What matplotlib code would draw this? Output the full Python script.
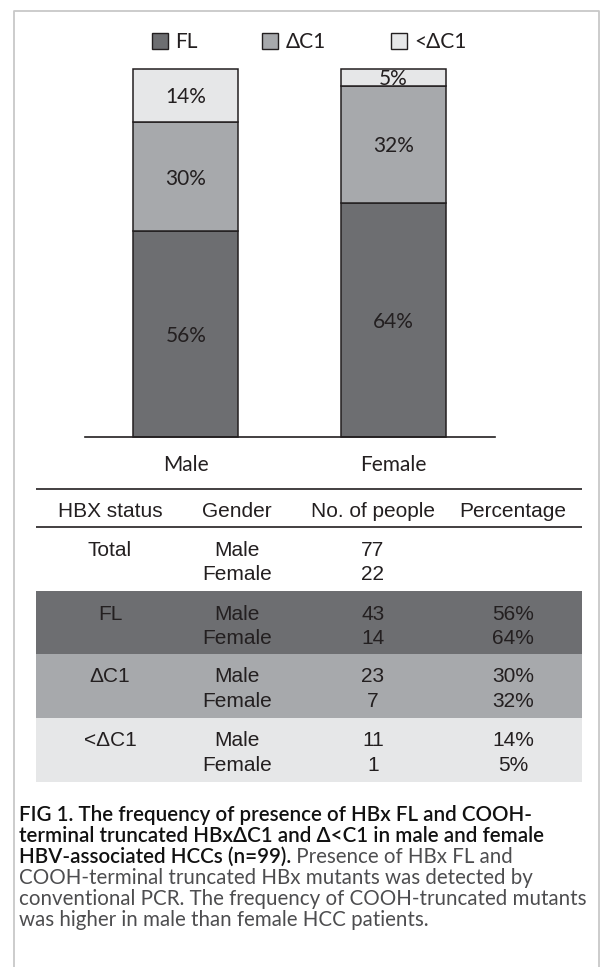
import numpy as np
import matplotlib
matplotlib.use("Agg")
import matplotlib.pyplot as plt
from matplotlib.patches import Patch, Rectangle

# Data
groups = ["Male", "Female"]
statuses = ["FL", "ΔC1", "<ΔC1"]
totals = [77, 22]
male_counts = [43, 23, 11]
female_counts = [14, 7, 1]
male_pct = [56, 30, 14]
female_pct = [64, 32, 5]
colors = ["#6d6e71", "#a7a9ac", "#e6e7e8"]

caption_bold = [
    "FIG 1. The frequency of presence of HBx FL and COOH-",
    "terminal truncated HBxΔC1 and Δ<C1 in male and female",
    "HBV-associated HCCs (n=99).",
]
caption_normal = [
    " Presence of HBx FL and",
    "COOH-terminal truncated HBx mutants was detected by",
    "conventional PCR. The frequency of COOH-truncated mutants",
    "was higher in male than female HCC patients.",
]

W, H = 600, 967
ink = "#231f20"
gill = ["Lato", "DejaVu Sans"]
arial = ["Liberation Sans", "DejaVu Sans"]

fig = plt.figure(figsize=(6, 9.67), dpi=100)

# background axes in pixel coordinates for frame, table and caption
bg = fig.add_axes([0, 0, 1, 1])
bg.set_xlim(0, W)
bg.set_ylim(H, 0)
bg.axis("off")
bg.plot([14, 14, 599, 599], [H + 5, 11, 11, H + 5], color="#c8c8c8", lw=1.3)

# Stacked bar chart
ax = fig.add_axes([85 / W, 1 - 437 / H, 410 / W, 368 / H])
ax.patch.set_alpha(0)
x = np.arange(len(groups))
counts = np.array([male_counts, female_counts])
pcts = [male_pct, female_pct]
bottoms = np.zeros(len(groups))
for j, status in enumerate(statuses):
    h = counts[:, j] / np.array(totals)
    ax.bar(x, h, bottom=bottoms, width=0.505, color=colors[j],
           edgecolor=ink, linewidth=1.1, label=status, clip_on=False)
    for i in range(len(groups)):
        ax.text(x[i], bottoms[i] + h[i] / 2, f"{pcts[i][j]}%", ha="center",
                va="center_baseline", fontsize=15, family=gill, color=ink)
    bottoms += h

ax.set_xlim(-0.485, 1.488)
ax.set_ylim(0, 1)
for s in ["left", "right", "top"]:
    ax.spines[s].set_visible(False)
ax.spines["bottom"].set_linewidth(1.2)
ax.spines["bottom"].set_color(ink)
ax.set_yticks([])
ax.set_xticks(x, groups)
ax.tick_params(axis="x", length=0, pad=13, labelsize=15, labelcolor=ink)
for t in ax.get_xticklabels():
    t.set_family(gill)

handles = [Patch(facecolor=c, edgecolor=ink, linewidth=1.0) for c in colors]
fig.legend(handles, statuses, loc="center", bbox_to_anchor=(309 / W, 1 - 42 / H),
           ncol=3, frameon=False, handlelength=0.78, handleheight=0.8,
           handletextpad=0.35, columnspacing=3.1,
           prop={"family": gill, "size": 15}, labelcolor=ink)

# Table
bg.hlines([489, 527], 36, 582, color=ink, lw=1.2)
col_x = [110, 237, 373, 513]
headers = ["HBX status", "Gender", "No. of people", "Percentage"]
for cx, hd in zip(col_x, headers):
    bg.text(cx, 517, hd, ha="center", va="baseline", fontsize=15,
            family=arial, color=ink)

block_tops = [527, 591, 654, 718]
block_h = 64
for j in range(len(statuses)):
    bg.add_patch(Rectangle((36, block_tops[j + 1]), 546, block_h,
                           facecolor=colors[j], edgecolor="none"))

block_names = ["Total"] + statuses
for b, name in enumerate(block_names):
    y1 = block_tops[b] + 28.5
    y2 = y1 + 24.5
    bg.text(col_x[0], y1, name, ha="center", va="baseline", fontsize=15,
            family=arial, color=ink)
    for g, yy in enumerate([y1, y2]):
        bg.text(col_x[1], yy, groups[g], ha="center", va="baseline",
                fontsize=15, family=arial, color=ink)
        if b == 0:
            n = totals[g]
            pct = ""
        else:
            n = counts[g, b - 1]
            pct = f"{pcts[g][b - 1]}%"
        bg.text(col_x[2], yy, str(n), ha="center", va="baseline",
                fontsize=15, family=arial, color=ink)
        if pct:
            bg.text(col_x[3], yy, pct, ha="center", va="baseline",
                    fontsize=15, family=arial, color=ink)

# Caption: size it so the longest line spans the same width as the reference
cap_x = 19
cap_y = [821, 842, 863, 884, 905, 926]
renderer = fig.canvas.get_renderer()
probe = bg.text(0, 0, caption_normal[2], fontsize=13, family=gill)
wpx = probe.get_window_extent(renderer).width
probe.remove()
cap_size = 13 * 566 / wpx
rest_color = "#4d4d4f"

for k, line in enumerate(caption_bold):
    t = bg.text(cap_x, cap_y[k], line, ha="left", va="baseline",
                fontsize=cap_size, family=gill, weight="semibold",
                color="#111111")
ext = t.get_window_extent(renderer)
bg.text(cap_x + ext.width, cap_y[2], caption_normal[0], ha="left",
        va="baseline", fontsize=cap_size, family=gill, color=rest_color)
for k, line in enumerate(caption_normal[1:]):
    bg.text(cap_x, cap_y[3 + k], line, ha="left", va="baseline",
            fontsize=cap_size, family=gill, color=rest_color)

fig.savefig("out.png", dpi=100)
